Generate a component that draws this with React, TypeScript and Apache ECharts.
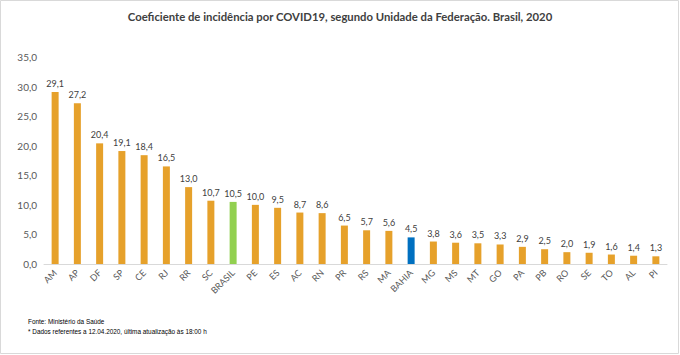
import React, { useEffect, useRef } from "react";
import * as echarts from "echarts";

const categories = ["AM","AP","DF","SP","CE","RJ","RR","SC","BRASIL","PE","ES","AC","RN","PR","RS","MA","BAHIA","MG","MS","MT","GO","PA","PB","RO","SE","TO","AL","PI"];
const values = [29.1,27.2,20.4,19.1,18.4,16.5,13.0,10.7,10.5,10.0,9.5,8.7,8.6,6.5,5.7,5.6,4.5,3.8,3.6,3.5,3.3,2.9,2.5,2.0,1.9,1.6,1.4,1.3];
const highlight: Record<string, string> = { BRASIL: "#92D050", BAHIA: "#0070C0" };
const baseColor = "#E6A12B";
const titleText = "Coeficiente de incidência por COVID19, segundo Unidade da Federação. Brasil, 2020";
const footnotes = ["Fonte: Ministério da Saúde", "* Dados referentes a 12.04.2020, última atualização às 18:00 h"];

const fmt = (v: number) => v.toFixed(1).replace(".", ",");

export default function App() {
  const ref = useRef<HTMLDivElement>(null);
  useEffect(() => {
    if (!ref.current) return;
    const chart = echarts.init(ref.current, null, { renderer: "svg" });
    chart.setOption({
      animation: false,
      backgroundColor: "#ffffff",
      title: {
        text: titleText,
        left: "center",
        top: 6,
        textStyle: { fontFamily: "Lato", fontWeight: "bold", fontSize: 11.3, color: "#404040" },
      },
      grid: { left: 44, right: 13, top: 57, bottom: 91 },
      xAxis: {
        type: "category",
        data: categories,
        axisTick: { show: false },
        axisLine: { lineStyle: { color: "#D9D9D9" } },
        axisLabel: { rotate: 45, fontSize: 9, color: "#595959", fontFamily: "Lato", interval: 0, margin: 7 },
      },
      yAxis: {
        type: "value",
        min: 0,
        max: 35,
        interval: 5,
        splitLine: { show: false },
        axisLine: { show: false },
        axisTick: { show: false },
        axisLabel: { formatter: (v: number) => fmt(v), fontSize: 10, color: "#595959", fontFamily: "Lato", margin: 7 },
      },
      series: [
        {
          type: "bar",
          barWidth: 7,
          data: values.map((v, i) => ({ value: v, itemStyle: { color: highlight[categories[i]] || baseColor } })),
          label: {
            show: true,
            position: "top",
            distance: 4,
            formatter: (p: any) => fmt(p.value),
            fontSize: 9,
            color: "#404040",
            fontFamily: "Lato",
          },
        },
      ],
      graphic: [
        { type: "rect", shape: { x: 0.5, y: 0.5, width: 678, height: 353 }, style: { fill: "none", stroke: "#D9D9D9", lineWidth: 1 } },
        { type: "text", left: 28, top: 318, style: { text: footnotes[0], fontSize: 6.4, fill: "#000", fontFamily: "Liberation Sans" } },
        { type: "text", left: 28, top: 328, style: { text: footnotes[1], fontSize: 6.4, fill: "#000", fontFamily: "Liberation Sans" } },
      ],
    });
    return () => chart.dispose();
  }, []);
  return <div ref={ref} style={{ position: "fixed", left: 0, top: 0, width: 680, height: 355 }} />;
}
